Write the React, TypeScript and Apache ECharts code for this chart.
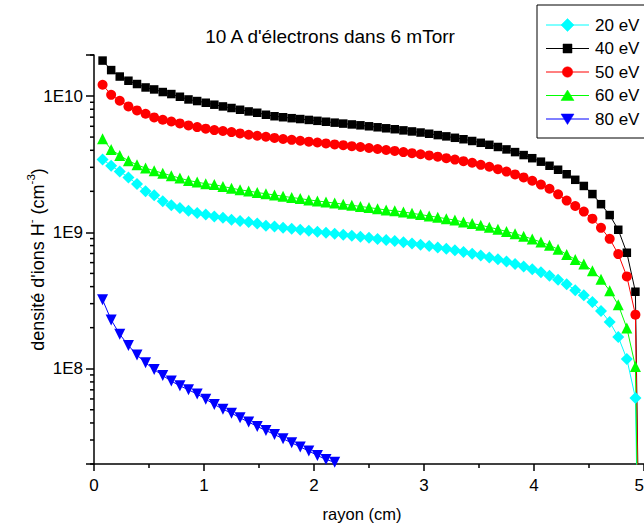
import React, { useEffect, useRef } from 'react';
import * as echarts from 'echarts';

// radius (cm) of the sampled points
const radius = [
  0.078, 0.156, 0.234, 0.313, 0.391, 0.469, 0.547, 0.625, 0.703, 0.781,
  0.859, 0.938, 1.016, 1.094, 1.172, 1.25, 1.328, 1.406, 1.484, 1.563,
  1.641, 1.719, 1.797, 1.875, 1.953, 2.031, 2.109, 2.188, 2.266, 2.344,
  2.422, 2.5, 2.578, 2.656, 2.734, 2.813, 2.891, 2.969, 3.047, 3.125,
  3.203, 3.281, 3.359, 3.438, 3.516, 3.594, 3.672, 3.75, 3.828, 3.906,
  3.984, 4.063, 4.141, 4.219, 4.297, 4.375, 4.453, 4.531, 4.609, 4.688,
  4.766, 4.844, 4.922, 5.0,
];

const ev20 = [
  3.43e9, 3.08e9, 2.80e9, 2.53e9, 2.26e9, 2.00e9, 1.87e9, 1.69e9, 1.58e9, 1.51e9,
  1.44e9, 1.39e9, 1.35e9, 1.31e9, 1.28e9, 1.24e9, 1.21e9, 1.19e9, 1.16e9, 1.12e9,
  1.105e9, 1.08e9, 1.064e9, 1.045e9, 1.027e9, 1.010e9, 9.93e8, 9.77e8, 9.60e8, 9.44e8,
  9.28e8, 9.13e8, 8.96e8, 8.80e8, 8.63e8, 8.46e8, 8.29e8, 8.11e8, 7.93e8, 7.75e8,
  7.57e8, 7.38e8, 7.18e8, 6.98e8, 6.77e8, 6.55e8, 6.34e8, 6.11e8, 5.87e8, 5.63e8,
  5.37e8, 5.10e8, 4.80e8, 4.49e8, 4.16e8, 3.77e8, 3.46e8, 3.08e8, 2.65e8, 2.20e8,
  1.71e8, 1.18e8, 6.11e7, 1e4,
];

const ev40 = [
  1.82e10, 1.55e10, 1.39e10, 1.295e10, 1.225e10, 1.156e10, 1.118e10, 1.070e10, 1.034e10, 9.88e9,
  9.44e9, 9.19e9, 8.93e9, 8.64e9, 8.39e9, 8.17e9, 7.93e9, 7.71e9, 7.54e9, 7.29e9,
  7.11e9, 6.99e9, 6.88e9, 6.78e9, 6.68e9, 6.58e9, 6.48e9, 6.38e9, 6.28e9, 6.19e9,
  6.10e9, 6.00e9, 5.90e9, 5.80e9, 5.71e9, 5.60e9, 5.50e9, 5.40e9, 5.29e9, 5.17e9,
  5.06e9, 4.94e9, 4.82e9, 4.68e9, 4.54e9, 4.39e9, 4.23e9, 4.06e9, 3.88e9, 3.69e9,
  3.50e9, 3.30e9, 3.08e9, 2.88e9, 2.67e9, 2.43e9, 2.19e9, 1.91e9, 1.61e9, 1.34e9,
  1.045e9, 7.09e8, 3.67e8, 1e4,
];

const ev50 = [
  1.21e10, 1.02e10, 9.24e9, 8.39e9, 7.84e9, 7.42e9, 6.97e9, 6.70e9, 6.51e9, 6.30e9,
  6.09e9, 5.92e9, 5.76e9, 5.63e9, 5.54e9, 5.44e9, 5.32e9, 5.20e9, 5.11e9, 5.03e9,
  4.93e9, 4.84e9, 4.77e9, 4.70e9, 4.63e9, 4.56e9, 4.49e9, 4.42e9, 4.36e9, 4.29e9,
  4.23e9, 4.16e9, 4.09e9, 4.02e9, 3.96e9, 3.88e9, 3.81e9, 3.74e9, 3.67e9, 3.59e9,
  3.50e9, 3.42e9, 3.33e9, 3.24e9, 3.13e9, 3.03e9, 2.91e9, 2.79e9, 2.66e9, 2.53e9,
  2.39e9, 2.24e9, 2.09e9, 1.90e9, 1.71e9, 1.56e9, 1.42e9, 1.26e9, 1.08e9, 8.97e8,
  6.93e8, 4.75e8, 2.49e8, 1e4,
];

const ev60 = [
  4.86e9, 4.06e9, 3.67e9, 3.35e9, 3.13e9, 2.96e9, 2.83e9, 2.72e9, 2.60e9, 2.50e9,
  2.40e9, 2.34e9, 2.27e9, 2.24e9, 2.17e9, 2.11e9, 2.05e9, 2.01e9, 1.96e9, 1.92e9,
  1.88e9, 1.84e9, 1.80e9, 1.77e9, 1.73e9, 1.70e9, 1.67e9, 1.64e9, 1.61e9, 1.58e9,
  1.55e9, 1.52e9, 1.49e9, 1.46e9, 1.44e9, 1.41e9, 1.38e9, 1.35e9, 1.32e9, 1.29e9,
  1.26e9, 1.23e9, 1.19e9, 1.16e9, 1.13e9, 1.09e9, 1.054e9, 1.015e9, 9.77e8, 9.36e8,
  8.93e8, 8.49e8, 8.03e8, 7.52e8, 6.88e8, 6.33e8, 5.85e8, 5.23e8, 4.54e8, 3.73e8,
  2.94e8, 1.99e8, 1.04e8, 1e4,
];

const ev80 = [
  3.20e8, 2.28e8, 1.79e8, 1.48e8, 1.26e8, 1.105e8, 9.86e7, 8.91e7, 8.11e7, 7.49e7,
  7.00e7, 6.51e7, 5.98e7, 5.46e7, 5.05e7, 4.72e7, 4.36e7, 4.06e7, 3.77e7, 3.52e7,
  3.29e7, 3.06e7, 2.86e7, 2.67e7, 2.49e7, 2.31e7, 2.16e7, 2.06e7,
];

const seriesNames = ['20 eV', '40 eV', '50 eV', '60 eV', '80 eV'];
const seriesValues = [ev20, ev40, ev50, ev60, ev80];
const yMajorTicks = [1e8, 1e9, 1e10];
const yTickLabels = ['1E8', '1E9', '1E10'];
const yMinorTicks = [
  2e7, 3e7, 4e7, 5e7, 6e7, 7e7, 8e7, 9e7,
  2e8, 3e8, 4e8, 5e8, 6e8, 7e8, 8e8, 9e8,
  2e9, 3e9, 4e9, 5e9, 6e9, 7e9, 8e9, 9e9,
  2e10,
];

const FONT = 'Liberation Sans, Arial, sans-serif';

// marker styles (presentation only)
const STYLES = [
  { color: '#00FFFF', symbol: 'diamond', size: 12, rotate: 0 },
  { color: '#000000', symbol: 'rect', size: 8.5, rotate: 0 },
  { color: '#FF0000', symbol: 'circle', size: 10, rotate: 0 },
  { color: '#00FF00', symbol: 'triangle', size: 11, rotate: 0 },
  { color: '#0000FF', symbol: 'triangle', size: 11, rotate: 180 },
];

function legendMarker(kind: number, cx: number, cy: number, color: string) {
  const style = { fill: color, stroke: color, lineWidth: 0.5 };
  switch (kind) {
    case 0:
      return { type: 'polygon', shape: { points: [[cx, cy - 6.5], [cx + 6.5, cy], [cx, cy + 6.5], [cx - 6.5, cy]] }, style };
    case 1:
      return { type: 'rect', shape: { x: cx - 4.5, y: cy - 4.5, width: 9, height: 9 }, style };
    case 2:
      return { type: 'circle', shape: { cx, cy, r: 5.2 }, style };
    case 3:
      return { type: 'polygon', shape: { points: [[cx, cy - 5.5], [cx + 6.5, cy + 5], [cx - 6.5, cy + 5]] }, style };
    default:
      return { type: 'polygon', shape: { points: [[cx - 6.5, cy - 5], [cx + 6.5, cy - 5], [cx, cy + 5.5]] }, style };
  }
}

export default function App() {
  const ref = useRef<HTMLDivElement>(null);

  useEffect(() => {
    if (!ref.current) return;
    const chart = echarts.init(ref.current, null, { renderer: 'svg' });

    const axisLineStyle = { color: '#000', width: 1.5 };

    const dataSeries = seriesNames.map((name, k) => {
      const st = STYLES[k];
      return {
        name,
        type: 'line',
        data: seriesValues[k].map((v, i) => [radius[i], v]),
        symbol: st.symbol,
        symbolSize: st.size,
        symbolRotate: st.rotate,
        itemStyle: { color: st.color },
        lineStyle: { color: st.color, width: 1 },
        emphasis: { disabled: true },
        clip: true,
        z: 3,
      };
    });

    const tickSeries = (values: number[], len: number) => ({
      type: 'custom',
      silent: true,
      clip: false,
      z: 5,
      data: values.map((v) => [0, v]),
      encode: { x: 0, y: 1 },
      renderItem: (_params: any, api: any) => {
        const p = api.coord([0, api.value(1)]);
        return {
          type: 'line',
          shape: { x1: p[0] - len, y1: p[1], x2: p[0], y2: p[1] },
          style: { stroke: '#000', lineWidth: 1.5 },
        };
      },
    });

    // legend box drawn as graphics
    const legendEls: any[] = [
      {
        type: 'rect',
        shape: { x: 537, y: 5, width: 200, height: 133 },
        style: { fill: '#fff', stroke: '#000', lineWidth: 1 },
        z: 100,
      },
    ];
    seriesNames.forEach((name, k) => {
      const cy = 25 + 23.5 * k;
      const color = STYLES[k].color;
      legendEls.push({
        type: 'line',
        shape: { x1: 546, y1: cy, x2: 589, y2: cy },
        style: { stroke: color, lineWidth: 1 },
        z: 101,
      });
      legendEls.push({ ...legendMarker(k, 567.5, cy, color), z: 102 });
      legendEls.push({
        type: 'text',
        x: 595,
        y: cy,
        style: { text: name, fontFamily: FONT, fontSize: 17, fill: '#000', align: 'left', verticalAlign: 'middle' },
        z: 102,
      });
    });

    chart.setOption({
      animation: false,
      backgroundColor: '#fff',
      textStyle: { fontFamily: FONT },
      graphic: [
        {
          type: 'text',
          x: 330,
          y: 36,
          style: {
            text: "10 A d'électrons dans 6 mTorr",
            align: 'center',
            verticalAlign: 'middle',
            fontFamily: FONT,
            fontSize: 19,
            fill: '#000',
          },
        },
        ...legendEls,
      ],
      grid: { left: 94, top: 55, width: 550, height: 409, containLabel: false, outerBoundsMode: 'none' },
      xAxis: {
        type: 'value',
        min: 0,
        max: 5,
        interval: 1,
        name: 'rayon (cm)',
        nameLocation: 'middle',
        nameGap: 41,
        nameMoveOverlap: false,
        nameTextStyle: { fontFamily: FONT, fontSize: 16.5, color: '#000', padding: [0, 14, 0, 0] },
        axisLine: { show: true, onZero: false, lineStyle: axisLineStyle },
        axisTick: { show: true, length: 7, lineStyle: axisLineStyle },
        minorTick: { show: true, splitNumber: 2, length: 4, lineStyle: axisLineStyle },
        axisLabel: { fontFamily: FONT, fontSize: 17, color: '#000', margin: 13, hideOverlap: false, alignMaxLabel: 'right' },
        splitLine: { show: false },
        minorSplitLine: { show: false },
      },
      yAxis: {
        type: 'log',
        logBase: 10,
        min: 2e7,
        max: 2e10,
        position: 'left',
        name: "{b|densité d'ions H}{s|-}{b| (cm}{s|-3}{b|)}",
        nameLocation: 'middle',
        nameGap: 47,
        nameMoveOverlap: false,
        nameTextStyle: {
          color: '#000',
          rich: {
            b: { fontFamily: FONT, fontSize: 18, color: '#000', lineHeight: 22, verticalAlign: 'bottom' },
            s: { fontFamily: FONT, fontSize: 11.5, color: '#000', lineHeight: 22, verticalAlign: 'top', padding: [0, 0, 8, 0] },
          },
        },
        axisLine: { show: true, onZero: false, lineStyle: axisLineStyle },
        axisTick: { show: true, length: 8, lineStyle: axisLineStyle },
        axisLabel: {
          fontFamily: FONT,
          fontSize: 17,
          color: '#000',
          margin: 11,
          formatter: (v: number) => {
            const idx = yMajorTicks.findIndex((t) => Math.abs(t - v) / t < 1e-6);
            return idx >= 0 ? yTickLabels[idx] : '';
          },
        },
        splitLine: { show: false },
      },
      series: [...dataSeries, tickSeries(yMinorTicks, 4)],
    });

    return () => chart.dispose();
  }, []);

  return (
    <div
      ref={ref}
      style={{ position: 'absolute', left: 0, top: 0, width: 644, height: 528, background: '#fff' }}
    />
  );
}
